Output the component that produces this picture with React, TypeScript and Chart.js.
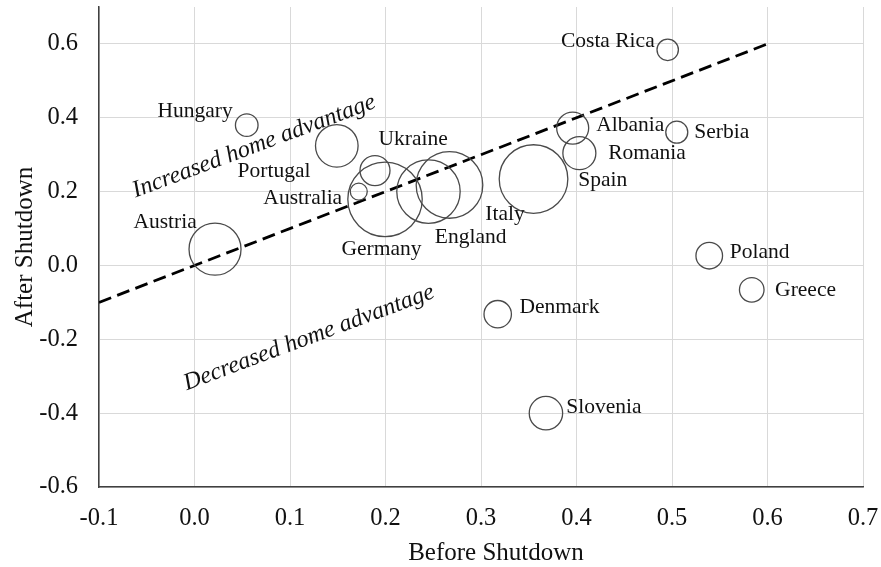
import React, { useEffect, useRef } from 'react';
import { Chart, registerables } from 'chart.js';

Chart.register(...registerables);

// ---- Data ----
const countries = ['Austria', 'Hungary', 'Ukraine', 'Portugal', 'Australia', 'Germany', 'England', 'Italy', 'Spain', 'Albania', 'Romania', 'Costa Rica', 'Serbia', 'Poland', 'Greece', 'Denmark', 'Slovenia'];
const beforeShutdown = [0.0215, 0.0547, 0.149, 0.189, 0.172, 0.1995, 0.245, 0.267, 0.355, 0.396, 0.403, 0.4955, 0.505, 0.539, 0.5835, 0.3175, 0.368];
const afterShutdown = [0.044, 0.380, 0.324, 0.257, 0.200, 0.179, 0.200, 0.218, 0.234, 0.372, 0.304, 0.584, 0.361, 0.0265, -0.066, -0.132, -0.400];
const bubbleSize = [26, 11.3, 21.3, 15, 8.5, 37.2, 31.7, 33.3, 34.3, 16, 16.5, 10.7, 11, 13.3, 12.3, 13.7, 16.7];

const xTicks = [-0.1, 0.0, 0.1, 0.2, 0.3, 0.4, 0.5, 0.6, 0.7];
const yTicks = [-0.6, -0.4, -0.2, 0.0, 0.2, 0.4, 0.6];

const xTitle = 'Before Shutdown';
const yTitle = 'After Shutdown';

// y = x reference line
const refLineX = [-0.1, 0.6];
const refLineY = [-0.1, 0.6];

const upperNote = 'Increased home advantage';
const lowerNote = 'Decreased home advantage';

// ---- Label placement (pixel offsets from bubble centre) ----
const labelOffsets: [number, number][] = [
  [-50, -27.3], [-51.7, -13.6], [76.3, -6], [-101, 1], [-56, 6.6], [-3.5, 49.8], [42.2, 45.3], [55.5, 29.7],
  [69.3, 1.2], [57.6, -3], [67.7, 0.4], [-59.9, -8.5], [45, -0.3], [50.4, -3.7], [53.8, 1], [61.8, -7.3], [58, -5.3],
];
const upperNotePos = { x: 0.0623, y: 0.322 };
const lowerNotePos = { x: 0.1199, y: -0.196 };
const noteAngleDeg = -20.5;

const SERIF = "'Liberation Serif', 'Times New Roman', serif";

const overlayPlugin = {
  id: 'overlay',
  afterDraw(chart: any) {
    const { ctx, chartArea, scales } = chart;
    const xs = scales.x;
    const ys = scales.y;
    ctx.save();
    // country labels
    ctx.fillStyle = '#111';
    ctx.font = `21.5px ${SERIF}`;
    ctx.textAlign = 'center';
    ctx.textBaseline = 'middle';
    countries.forEach((name, i) => {
      const px = xs.getPixelForValue(beforeShutdown[i]);
      const py = ys.getPixelForValue(afterShutdown[i]);
      const [dx, dy] = labelOffsets[i];
      ctx.fillText(name, px + dx, py + dy);
    });
    // italic notes
    ctx.font = `italic 24px ${SERIF}`;
    const drawNote = (txt: string, p: { x: number; y: number }) => {
      ctx.save();
      ctx.translate(xs.getPixelForValue(p.x), ys.getPixelForValue(p.y));
      ctx.rotate((noteAngleDeg * Math.PI) / 180);
      ctx.fillText(txt, 0, 0);
      ctx.restore();
    };
    drawNote(upperNote, upperNotePos);
    drawNote(lowerNote, lowerNotePos);
    // axis titles
    ctx.font = `25px ${SERIF}`;
    ctx.textBaseline = 'alphabetic';
    ctx.fillText(xTitle, (chartArea.left + chartArea.right) / 2 + 15, 560);
    ctx.save();
    ctx.translate(31.7, (chartArea.top + chartArea.bottom) / 2);
    ctx.rotate(-Math.PI / 2);
    ctx.fillText(yTitle, 0, 0);
    ctx.restore();
    ctx.restore();
  },
};

export default function App() {
  const ref = useRef<HTMLCanvasElement | null>(null);
  useEffect(() => {
    if (!ref.current) return;
    const zeroPad = (s: any) => {
      s.paddingTop = 0;
      s.paddingBottom = 0;
      s.paddingLeft = 0;
      s.paddingRight = 0;
    };
    const chart = new Chart(ref.current, {
      type: 'bubble',
      data: {
        datasets: [
          {
            type: 'bubble',
            label: 'Countries',
            data: countries.map((_, i) => ({ x: beforeShutdown[i], y: afterShutdown[i], r: bubbleSize[i] })),
            backgroundColor: 'rgba(0,0,0,0)',
            borderColor: '#4a4a4a',
            borderWidth: 1.3,
          },
          {
            type: 'line',
            label: 'y = x',
            data: refLineX.map((x, i) => ({ x, y: refLineY[i] })),
            borderColor: '#000',
            borderWidth: 2.8,
            borderDash: [13, 6.5],
            pointRadius: 0,
            fill: false,
          } as any,
        ],
      },
      options: {
        responsive: false,
        animation: false,
        events: [],
        layout: { autoPadding: false, padding: { top: 7, right: 18, left: 0, bottom: 0 } },
        plugins: { legend: { display: false }, tooltip: { enabled: false } },
        scales: {
          x: {
            type: 'linear',
            min: -0.1,
            max: 0.7,
            afterBuildTicks: (s: any) => {
              s.ticks = xTicks.map((v) => ({ value: v }));
            },
            afterFit: (s: any) => {
              s.height = 80;
              zeroPad(s);
            },
            grid: { color: '#d9d9d9', lineWidth: 1, drawTicks: false },
            border: { color: '#404040', width: 1.5 },
            ticks: {
              padding: 16.5,
              color: '#111',
              font: { family: SERIF, size: 24.5 },
              maxRotation: 0,
              autoSkip: false,
              callback: (v: any) => Number(v).toFixed(1),
            },
          },
          y: {
            type: 'linear',
            min: -0.6,
            max: 0.7,
            afterBuildTicks: (s: any) => {
              s.ticks = yTicks.map((v) => ({ value: v }));
            },
            afterFit: (s: any) => {
              s.width = 99;
              zeroPad(s);
            },
            grid: { color: '#d9d9d9', lineWidth: 1, drawTicks: false },
            border: { color: '#404040', width: 1.5 },
            ticks: {
              padding: 21,
              color: '#111',
              font: { family: SERIF, size: 24.5 },
              autoSkip: false,
              callback: (v: any) => Number(v).toFixed(1),
            },
          },
        },
      } as any,
      plugins: [overlayPlugin],
    });
    return () => chart.destroy();
  }, []);
  return (
    <div style={{ position: 'absolute', left: 0, top: 0, width: 881, height: 567, background: '#fff' }}>
      <canvas ref={ref} width={881} height={567} style={{ display: 'block' }} />
    </div>
  );
}
